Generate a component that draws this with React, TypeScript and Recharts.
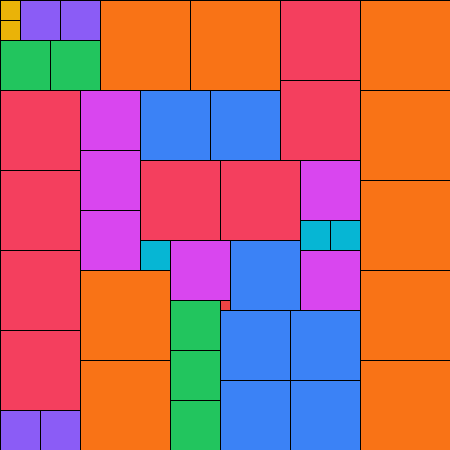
import { ScatterChart, XAxis, YAxis, ReferenceArea } from 'recharts';

// side length of each square (in grid units), one group per side
const sides = [1, 2, 3, 4, 5, 6, 7, 8, 9];
const palette = ['#ef4444', '#eab308', '#06b6d4', '#8b5cf6', '#22c55e', '#d946ef', '#3b82f6', '#f43f5e', '#f97316'];

// grid cell (column, row) where each square starts, listed per side
const origins: [number, number][][] = [
  [[22, 30]],
  [[0, 0], [0, 2]],
  [[30, 22], [33, 22], [14, 24]],
  [[2, 0], [6, 0], [0, 41], [4, 41]],
  [[0, 4], [5, 4], [17, 30], [17, 35], [17, 40]],
  [[8, 9], [8, 15], [8, 21], [30, 16], [30, 25], [17, 24]],
  [[14, 9], [21, 9], [23, 24], [22, 31], [29, 31], [22, 38], [29, 38]],
  [[28, 0], [28, 8], [0, 9], [0, 17], [0, 25], [0, 33], [14, 16], [22, 16]],
  [[10, 0], [19, 0], [36, 0], [36, 9], [36, 18], [36, 27], [36, 36], [8, 27], [8, 36]],
];

const gridSize = 45;

const tiles = sides.flatMap((s, i) =>
  origins[i].map(([c, r]) => ({ s, c, r, fill: palette[i] }))
);

export default function App() {
  return (
    <div style={{ position: 'absolute', left: 0, top: 0 }}>
      <ScatterChart width={450} height={450} margin={{ top: 0, right: 0, bottom: 0, left: 0 }}>
        <XAxis type="number" dataKey="c" domain={[0, gridSize]} hide allowDataOverflow />
        <YAxis type="number" dataKey="r" domain={[0, gridSize]} reversed hide allowDataOverflow />
        {tiles.map((t, i) => (
          <ReferenceArea
            key={i}
            x1={t.c}
            x2={t.c + t.s}
            y1={t.r}
            y2={t.r + t.s}
            fill={t.fill}
            fillOpacity={1}
            stroke="#000"
            strokeWidth={1}
            ifOverflow="visible"
            shapeRendering="crispEdges"
          />
        ))}
      </ScatterChart>
    </div>
  );
}
